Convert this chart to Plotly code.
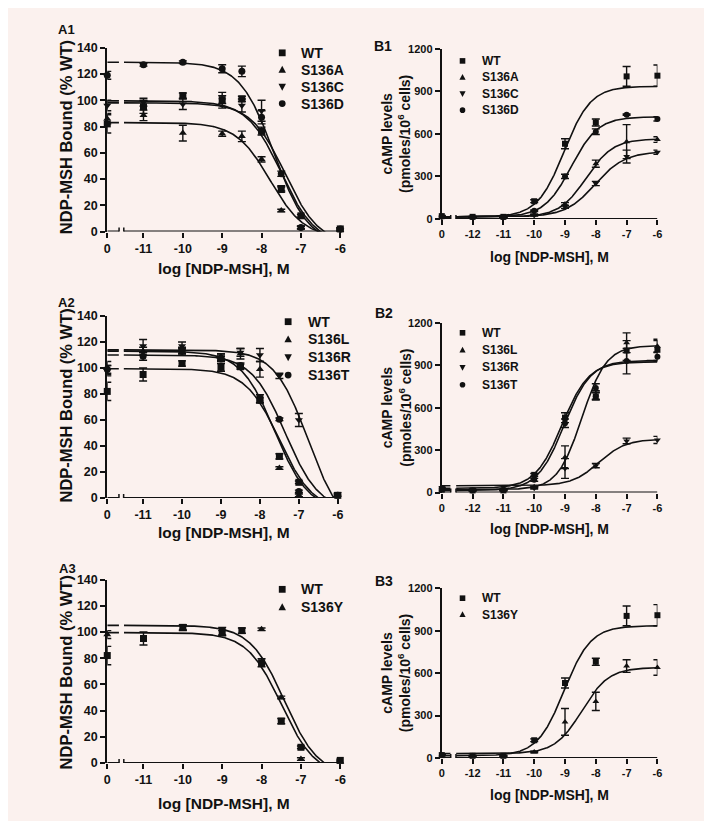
import numpy as np
import plotly.graph_objects as go

W, H = 712, 821
FONT = "Liberation Sans, Arial, sans-serif"
INK = "#111111"
BG = "#fbf1ee"

# x axis = log [NDP-MSH]; the no-ligand control sits left of the axis break, labelled "0"
A_CTRL_X = -11.92
B_CTRL_X = -13.0
A_LOGC = [-11, -10, -9, -8.5, -8, -7.5, -7, -6]
B_LOGC = [-12, -11, -10, -9, -8, -7, -6]
A_TICKVALS = [-11, -10, -9, -8, -7, -6]
B_TICKVALS = [-12, -11, -10, -9, -8, -7, -6]
A_BREAK = [-11.62, -11.50]
B_BREAK = [-12.71, -12.54]

# NDP-MSH bound (% WT), first value is the control "0"
BIND_WT = [82, 95, 103.5, 100.5, 101, 76.5, 32, 12, 2]
BIND_WT_ERR = [7, 5, 2, 3, 2, 3, 2, 1, 1]
BIND_S136A = [86, 88.5, 75, 74.5, 72.5, 55, 16, 3, 1]
BIND_S136A_ERR = [4, 4, 6, 2, 4, 2, 1, 1, 1]
BIND_S136C = [96, 98.5, 97, 100, 96, 92, 33, 3, 1]
BIND_S136C_ERR = [4, 3, 4, 6, 5, 8, 2, 1, 1]
BIND_S136D = [119, 127, 129, 124, 122, 87, 44, 3, 2]
BIND_S136D_ERR = [3, 1, 1, 3, 4, 5, 2, 1, 1]
BIND_S136L = [100, 113, 113, 109, 111, 99, 23, 2, 2]
BIND_S136L_ERR = [5, 3, 3, 2, 4, 6, 1, 1, 1]
BIND_S136R = [98, 117, 117, 108, 112, 110, 94, 60, 3]
BIND_S136R_ERR = [4, 5, 3, 2, 3, 5, 2, 5, 1]
BIND_S136T = [99, 109, 113, 107, 102, 75, 60.5, 5, 2]
BIND_S136T_ERR = [3, 3, 2, 2, 2, 2, 1, 1, 1]
BIND_S136Y = [98, None, 103, 99, None, 102, 50, 3, 1]
BIND_S136Y_ERR = [3, 0, 2, 2, 0, 1, 1, 1, 1]

# fitted competition curves: top, bottom, logIC50, hill
FIT_BIND_WT = [99.5, -10, -7.5, -1]
FIT_BIND_S136A = [83, -5, -7.78, -1]
FIT_BIND_S136C = [98, -10, -7.4, -1]
FIT_BIND_S136D = [129, -10, -7.68, -1]
FIT_BIND_S136L = [113, -10, -7.62, -1]
FIT_BIND_S136R = [114, -25, -6.76, -1]
FIT_BIND_S136T = [110, -10, -7.35, -1]
FIT_BIND_S136Y = [105, -10, -7.42, -1]

# cAMP (pmoles/10^6 cells), first value is the control "0"
CAMP_WT = [20, 15, 15, 125, 530, 680, 1005, 1010]
CAMP_WT_ERR = [5, 3, 3, 10, 35, 25, 70, 75]
CAMP_S136A = [15, 12, 12, 30, 105, 390, 545, 560]
CAMP_S136A_ERR = [3, 3, 3, 5, 10, 25, 120, 20]
CAMP_S136C = [12, 10, 10, 25, 85, 250, 440, 470]
CAMP_S136C_ERR = [3, 3, 3, 5, 10, 15, 45, 15]
CAMP_S136D = [18, 14, 14, 58, 300, 615, 735, 705]
CAMP_S136D_ERR = [3, 3, 3, 5, 15, 20, 5, 15]
CAMP_S136L = [20, 15, 15, 40, 250, 690, 1060, 1035]
CAMP_S136L_ERR = [3, 3, 3, 5, 80, 30, 70, 40]
CAMP_S136R = [35, 20, 20, 30, 170, 190, 365, 372]
CAMP_S136R_ERR = [3, 3, 3, 5, 70, 15, 20, 25]
CAMP_S136T = [25, 15, 20, 90, 490, 740, 930, 960]
CAMP_S136T_ERR = [3, 3, 3, 10, 30, 30, 90, 30]
CAMP_S136Y = [23, 15, 12, 42, 255, 400, 650, 640]
CAMP_S136Y_ERR = [3, 3, 3, 5, 95, 65, 45, 55]

# fitted dose-response curves: top, bottom, logEC50, hill
FIT_CAMP_WT = [935, 15, -9.03, 1]
FIT_CAMP_S136A = [565, 15, -8.31, 1]
FIT_CAMP_S136C = [475, 15, -8.02, 0.9]
FIT_CAMP_S136D = [720, 15, -8.8, 1]
FIT_CAMP_S136L = [1040, 20, -8.45, 1.1]
FIT_CAMP_S136R = [378, 48, -7.9, 1]
FIT_CAMP_S136T = [925, 30, -9.1, 1]
FIT_CAMP_S136Y = [640, 30, -8.45, 1]

SYMBOLS = {"WT": "square", "S136A": "triangle-up", "S136C": "triangle-down", "S136D": "circle",
           "S136L": "triangle-up", "S136R": "triangle-down", "S136T": "circle", "S136Y": "triangle-up"}

PANELS = [
    ("A1", "bind", [("WT", BIND_WT, BIND_WT_ERR, FIT_BIND_WT),
                    ("S136A", BIND_S136A, BIND_S136A_ERR, FIT_BIND_S136A),
                    ("S136C", BIND_S136C, BIND_S136C_ERR, FIT_BIND_S136C),
                    ("S136D", BIND_S136D, BIND_S136D_ERR, FIT_BIND_S136D)]),
    ("B1", "camp", [("WT", CAMP_WT, CAMP_WT_ERR, FIT_CAMP_WT),
                    ("S136A", CAMP_S136A, CAMP_S136A_ERR, FIT_CAMP_S136A),
                    ("S136C", CAMP_S136C, CAMP_S136C_ERR, FIT_CAMP_S136C),
                    ("S136D", CAMP_S136D, CAMP_S136D_ERR, FIT_CAMP_S136D)]),
    ("A2", "bind", [("WT", BIND_WT, BIND_WT_ERR, FIT_BIND_WT),
                    ("S136L", BIND_S136L, BIND_S136L_ERR, FIT_BIND_S136L),
                    ("S136R", BIND_S136R, BIND_S136R_ERR, FIT_BIND_S136R),
                    ("S136T", BIND_S136T, BIND_S136T_ERR, FIT_BIND_S136T)]),
    ("B2", "camp", [("WT", CAMP_WT, CAMP_WT_ERR, FIT_CAMP_WT),
                    ("S136L", CAMP_S136L, CAMP_S136L_ERR, FIT_CAMP_S136L),
                    ("S136R", CAMP_S136R, CAMP_S136R_ERR, FIT_CAMP_S136R),
                    ("S136T", CAMP_S136T, CAMP_S136T_ERR, FIT_CAMP_S136T)]),
    ("A3", "bind", [("WT", BIND_WT, BIND_WT_ERR, FIT_BIND_WT),
                    ("S136Y", BIND_S136Y, BIND_S136Y_ERR, FIT_BIND_S136Y)]),
    ("B3", "camp", [("WT", CAMP_WT, CAMP_WT_ERR, FIT_CAMP_WT),
                    ("S136Y", CAMP_S136Y, CAMP_S136Y_ERR, FIT_CAMP_S136Y)]),
]

# plot areas in px: left, right, top, bottom
GEOM = [(97.5, 333.5, 33.3, 220.3), (436.3, 654.7, 34.3, 207.5),
        (97.5, 331.0, 306.3, 491.3), (436.3, 654.7, 313.3, 485.8),
        (97.5, 333.5, 574.3, 761.0), (436.3, 654.7, 583.3, 755.8)]
# panel label centre, y-title centre, x-title centre
LABEL_POS = [(56.7, 15), (377, 31.3), (56.7, 292.8), (378, 303), (57, 563), (378, 576)]
YTITLE_POS = [(56, 124), (390, 121), (56, 397), (390, 399.5), (56, 668.5), (390, 669.5)]
XTITLE_POS = [(215.5, 258), (545.7, 245.8), (215.5, 526.5), (545.7, 523.3), (215.5, 802.5), (545.7, 793.3)]
# legend: symbol x, text x, first row y, row step
LEGEND_POS = [(274.7, 291.3, 38.5, 17.2), (457.3, 474.7, 46.7, 16.7),
              (280.7, 298.7, 312, 18.1), (457.3, 474.7, 323.3, 17.6),
              (274.7, 292.0, 584.3, 18.4), (457.3, 474.7, 593.3, 16.7)]


def fit_curve(x, p):
    top, bottom, c, hill = p
    return bottom + (top - bottom) / (1 + 10 ** ((c - x) * hill))


def px(x):
    return x / W


def py(y):
    return 1 - y / H


def legend_shape(kind, cx, cy, h):
    base = dict(xref="paper", yref="paper", xsizemode="pixel", ysizemode="pixel",
                xanchor=px(cx), yanchor=py(cy), fillcolor=INK, line=dict(width=0))
    if kind == "circle":
        return dict(type="circle", x0=-h, x1=h, y0=-h, y1=h, **base)
    if kind == "square":
        path = f"M{-h},{-h}L{h},{-h}L{h},{h}L{-h},{h}Z"
    elif kind == "triangle-up":
        path = f"M{-h * 1.1},{-h * 0.85}L{h * 1.1},{-h * 0.85}L0,{h * 1.2}Z"
    else:
        path = f"M{-h * 1.1},{h * 0.85}L{h * 1.1},{h * 0.85}L0,{-h * 1.2}Z"
    return dict(type="path", path=path, **base)


fig = go.Figure()
shapes, annotations = [], []

for i, (label, kind, series) in enumerate(PANELS):
    n = "" if i == 0 else str(i + 1)
    xa, ya = "x" + n, "y" + n
    left, right, top, bottom = GEOM[i]
    is_a = kind == "bind"
    ctrl = A_CTRL_X if is_a else B_CTRL_X
    logc = A_LOGC if is_a else B_LOGC
    brk = A_BREAK if is_a else B_BREAK
    tickvals = A_TICKVALS if is_a else B_TICKVALS
    tick_size = 12.5 if is_a else 11
    msize = 7 if is_a else 6
    xs = [ctrl] + logc

    grid = np.linspace(ctrl, -6, 600)
    for name, vals, errs, fit in series:
        yc = fit_curve(grid, fit)
        yc = [None if brk[0] < g < brk[1] else v for g, v in zip(grid, yc)]
        fig.add_trace(go.Scatter(x=grid, y=yc, mode="lines", line=dict(color=INK, width=1.6),
                                 xaxis=xa, yaxis=ya, showlegend=False, hoverinfo="skip"))
        fig.add_trace(go.Scatter(x=xs, y=vals, mode="markers", name=name,
                                 marker=dict(symbol=SYMBOLS[name], size=msize, color=INK),
                                 error_y=dict(type="data", array=errs, color=INK, thickness=1.4, width=4),
                                 xaxis=xa, yaxis=ya, showlegend=False, cliponaxis=False))

    fig.layout["xaxis" + n] = dict(
        domain=[px(left), px(right)], range=[ctrl, -6], anchor=ya,
        tickvals=[ctrl] + tickvals, ticktext=["0"] + [str(t) for t in tickvals],
        ticks="outside", ticklen=5, tickwidth=2, tickcolor=INK,
        showline=False, zeroline=False, showgrid=False,
        tickfont=dict(family=FONT, size=tick_size, color=INK, weight="bold"))
    fig.layout["yaxis" + n] = dict(
        domain=[py(bottom), py(top)], range=[0, 140] if is_a else [0, 1200], anchor=xa,
        tickvals=list(range(0, 141, 20)) if is_a else list(range(0, 1201, 300)),
        ticks="outside", ticklen=5, tickwidth=2, tickcolor=INK,
        showline=True, linewidth=2, linecolor=INK, zeroline=False, showgrid=False,
        tickfont=dict(family=FONT, size=tick_size, color=INK, weight="bold"))

    # broken x axis line
    for x0, x1 in [(ctrl, brk[0]), (brk[1], -6)]:
        shapes.append(dict(type="line", xref=xa, yref=ya, x0=x0, x1=x1, y0=0, y1=0,
                           line=dict(color=INK, width=2)))
    for xb in brk:
        shapes.append(dict(type="line", xref=xa, yref=ya, x0=xb, x1=xb, ysizemode="pixel",
                           yanchor=0, y0=-4, y1=4, line=dict(color=INK, width=1.5)))

    # legend
    sx, tx, ly, step = LEGEND_POS[i]
    lsize = 14 if is_a else 12
    for j, (name, *_rest) in enumerate(series):
        cy = ly + j * step
        shapes.append(legend_shape(SYMBOLS[name], sx, cy, 3.4 if is_a else 2.8))
        annotations.append(dict(x=px(tx), y=py(cy), xref="paper", yref="paper", text=name,
                                showarrow=False, xanchor="left", yanchor="middle",
                                font=dict(family=FONT, size=lsize, color=INK, weight="bold")))

    lx, lyy = LABEL_POS[i]
    annotations.append(dict(x=px(lx), y=py(lyy), xref="paper", yref="paper", text=label,
                            showarrow=False, xanchor="center", yanchor="middle",
                            font=dict(family=FONT, size=13 if is_a else 14, color=INK, weight="bold")))
    tx_, ty_ = XTITLE_POS[i]
    annotations.append(dict(x=px(tx_), y=py(ty_), xref="paper", yref="paper",
                            text="log [NDP-MSH], M", showarrow=False,
                            xanchor="center", yanchor="middle",
                            font=dict(family=FONT, size=15.5 if is_a else 14, color=INK, weight="bold")))
    yx, yy = YTITLE_POS[i]
    ytext = "NDP-MSH Bound (% WT)" if is_a else "cAMP levels<br>(pmoles/10<sup>6</sup> cells)"
    annotations.append(dict(x=px(yx), y=py(yy), xref="paper", yref="paper", text=ytext,
                            showarrow=False, textangle=-90, xanchor="center", yanchor="middle",
                            font=dict(family=FONT, size=16.5 if is_a else 14, color=INK, weight="bold")))

fig.update_layout(width=W, height=H, margin=dict(l=0, r=0, t=0, b=0),
                  paper_bgcolor=BG, plot_bgcolor=BG, showlegend=False,
                  shapes=shapes, annotations=annotations)

fig.write_html("out.html")
